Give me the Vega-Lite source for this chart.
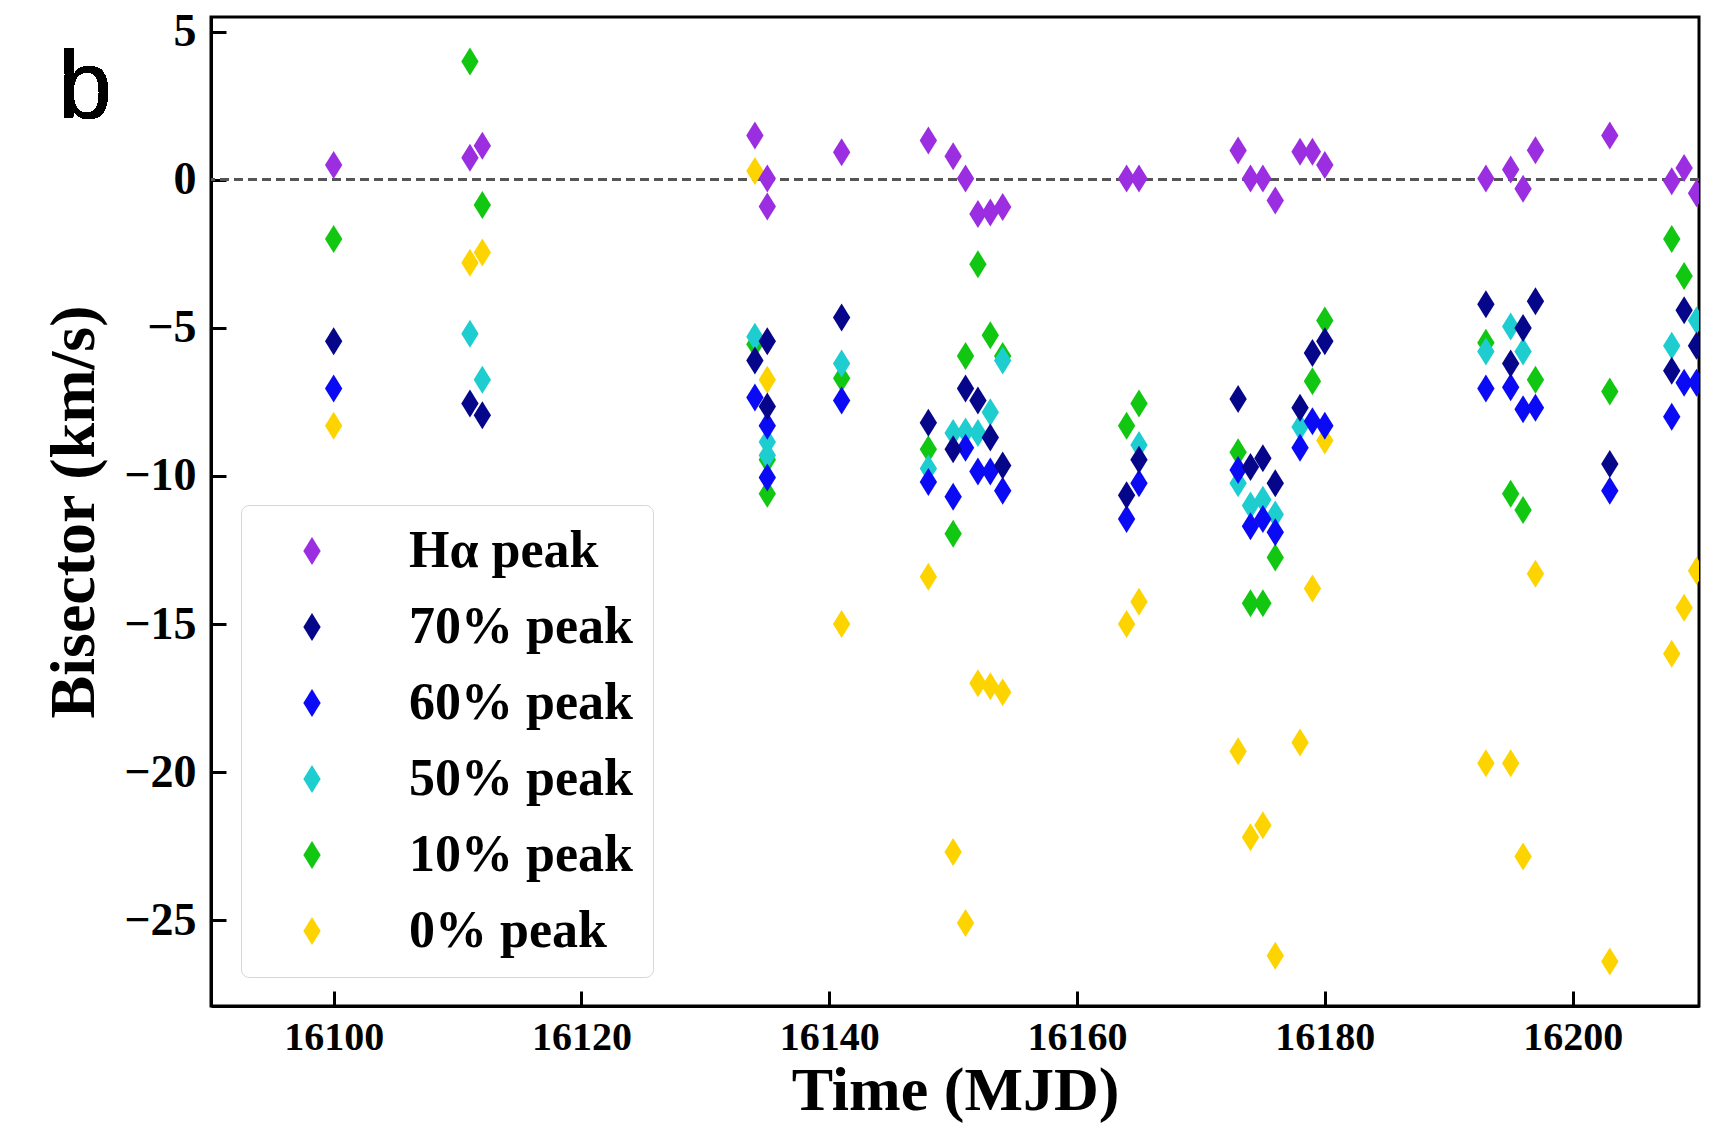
{
  "$schema": "https://vega.github.io/schema/vega-lite/v6.json",
  "width": 1488,
  "height": 989,
  "autosize": {"type": "none"},
  "padding": {"left": 211, "top": 17, "right": 34, "bottom": 122},
  "background": "white",
  "config": {
    "view": {"stroke": "black", "strokeWidth": 3},
    "axis": {"grid": false, "domainColor": "black", "domainWidth": 3, "tickColor": "black", "tickWidth": 3, "tickSize": -15, "labelFont": "Liberation Serif", "labelFontWeight": "bold", "labelColor": "black", "titleFont": "Liberation Serif", "titleFontWeight": "bold", "titleColor": "black"}
  },
  "data": {"values": [
    {"t": 16100, "v": -8.3, "s": "0% peak"},
    {"t": 16111, "v": -2.8, "s": "0% peak"},
    {"t": 16112, "v": -2.45, "s": "0% peak"},
    {"t": 16134, "v": 0.3, "s": "0% peak"},
    {"t": 16135, "v": -6.75, "s": "0% peak"},
    {"t": 16141, "v": -15.0, "s": "0% peak"},
    {"t": 16148, "v": -13.4, "s": "0% peak"},
    {"t": 16150, "v": -22.7, "s": "0% peak"},
    {"t": 16151, "v": -25.1, "s": "0% peak"},
    {"t": 16152, "v": -17.0, "s": "0% peak"},
    {"t": 16153, "v": -17.1, "s": "0% peak"},
    {"t": 16154, "v": -17.3, "s": "0% peak"},
    {"t": 16164, "v": -15.0, "s": "0% peak"},
    {"t": 16165, "v": -14.25, "s": "0% peak"},
    {"t": 16173, "v": -19.3, "s": "0% peak"},
    {"t": 16174, "v": -22.2, "s": "0% peak"},
    {"t": 16175, "v": -21.8, "s": "0% peak"},
    {"t": 16176, "v": -26.2, "s": "0% peak"},
    {"t": 16178, "v": -19.0, "s": "0% peak"},
    {"t": 16179, "v": -13.8, "s": "0% peak"},
    {"t": 16180, "v": -8.8, "s": "0% peak"},
    {"t": 16193, "v": -19.7, "s": "0% peak"},
    {"t": 16195, "v": -19.7, "s": "0% peak"},
    {"t": 16196, "v": -22.85, "s": "0% peak"},
    {"t": 16197, "v": -13.3, "s": "0% peak"},
    {"t": 16203, "v": -26.4, "s": "0% peak"},
    {"t": 16208, "v": -16.0, "s": "0% peak"},
    {"t": 16209, "v": -14.45, "s": "0% peak"},
    {"t": 16210, "v": -13.2, "s": "0% peak"},

    {"t": 16100, "v": -2.0, "s": "10% peak"},
    {"t": 16111, "v": 4.0, "s": "10% peak"},
    {"t": 16112, "v": -0.85, "s": "10% peak"},
    {"t": 16134, "v": -5.55, "s": "10% peak"},
    {"t": 16135, "v": -9.45, "s": "10% peak"},
    {"t": 16135, "v": -10.6, "s": "10% peak"},
    {"t": 16141, "v": -6.7, "s": "10% peak"},
    {"t": 16148, "v": -9.1, "s": "10% peak"},
    {"t": 16150, "v": -11.95, "s": "10% peak"},
    {"t": 16151, "v": -5.95, "s": "10% peak"},
    {"t": 16152, "v": -2.85, "s": "10% peak"},
    {"t": 16153, "v": -5.25, "s": "10% peak"},
    {"t": 16154, "v": -5.95, "s": "10% peak"},
    {"t": 16164, "v": -8.3, "s": "10% peak"},
    {"t": 16165, "v": -7.55, "s": "10% peak"},
    {"t": 16173, "v": -9.2, "s": "10% peak"},
    {"t": 16174, "v": -14.3, "s": "10% peak"},
    {"t": 16175, "v": -14.3, "s": "10% peak"},
    {"t": 16176, "v": -12.75, "s": "10% peak"},
    {"t": 16179, "v": -6.8, "s": "10% peak"},
    {"t": 16180, "v": -4.75, "s": "10% peak"},
    {"t": 16193, "v": -5.5, "s": "10% peak"},
    {"t": 16195, "v": -10.6, "s": "10% peak"},
    {"t": 16196, "v": -11.15, "s": "10% peak"},
    {"t": 16197, "v": -6.75, "s": "10% peak"},
    {"t": 16203, "v": -7.15, "s": "10% peak"},
    {"t": 16208, "v": -2.0, "s": "10% peak"},
    {"t": 16209, "v": -3.25, "s": "10% peak"},

    {"t": 16111, "v": -5.2, "s": "50% peak"},
    {"t": 16112, "v": -6.75, "s": "50% peak"},
    {"t": 16134, "v": -5.3, "s": "50% peak"},
    {"t": 16135, "v": -8.85, "s": "50% peak"},
    {"t": 16135, "v": -9.3, "s": "50% peak"},
    {"t": 16141, "v": -6.2, "s": "50% peak"},
    {"t": 16148, "v": -9.75, "s": "50% peak"},
    {"t": 16150, "v": -8.55, "s": "50% peak"},
    {"t": 16151, "v": -8.5, "s": "50% peak"},
    {"t": 16152, "v": -8.55, "s": "50% peak"},
    {"t": 16153, "v": -7.85, "s": "50% peak"},
    {"t": 16154, "v": -6.1, "s": "50% peak"},
    {"t": 16165, "v": -8.95, "s": "50% peak"},
    {"t": 16173, "v": -10.25, "s": "50% peak"},
    {"t": 16174, "v": -11.0, "s": "50% peak"},
    {"t": 16175, "v": -10.8, "s": "50% peak"},
    {"t": 16176, "v": -11.3, "s": "50% peak"},
    {"t": 16178, "v": -8.35, "s": "50% peak"},
    {"t": 16193, "v": -5.8, "s": "50% peak"},
    {"t": 16195, "v": -4.95, "s": "50% peak"},
    {"t": 16196, "v": -5.8, "s": "50% peak"},
    {"t": 16208, "v": -5.6, "s": "50% peak"},
    {"t": 16210, "v": -4.75, "s": "50% peak"},

    {"t": 16100, "v": -7.05, "s": "60% peak"},
    {"t": 16134, "v": -7.35, "s": "60% peak"},
    {"t": 16135, "v": -8.3, "s": "60% peak"},
    {"t": 16135, "v": -10.05, "s": "60% peak"},
    {"t": 16141, "v": -7.45, "s": "60% peak"},
    {"t": 16148, "v": -10.2, "s": "60% peak"},
    {"t": 16150, "v": -10.7, "s": "60% peak"},
    {"t": 16151, "v": -9.05, "s": "60% peak"},
    {"t": 16152, "v": -9.85, "s": "60% peak"},
    {"t": 16153, "v": -9.85, "s": "60% peak"},
    {"t": 16154, "v": -10.5, "s": "60% peak"},
    {"t": 16164, "v": -11.45, "s": "60% peak"},
    {"t": 16165, "v": -10.25, "s": "60% peak"},
    {"t": 16173, "v": -9.8, "s": "60% peak"},
    {"t": 16174, "v": -11.7, "s": "60% peak"},
    {"t": 16175, "v": -11.45, "s": "60% peak"},
    {"t": 16176, "v": -11.9, "s": "60% peak"},
    {"t": 16178, "v": -9.05, "s": "60% peak"},
    {"t": 16179, "v": -8.15, "s": "60% peak"},
    {"t": 16180, "v": -8.3, "s": "60% peak"},
    {"t": 16193, "v": -7.05, "s": "60% peak"},
    {"t": 16195, "v": -7.0, "s": "60% peak"},
    {"t": 16196, "v": -7.75, "s": "60% peak"},
    {"t": 16197, "v": -7.7, "s": "60% peak"},
    {"t": 16203, "v": -10.5, "s": "60% peak"},
    {"t": 16208, "v": -8.0, "s": "60% peak"},
    {"t": 16209, "v": -6.85, "s": "60% peak"},
    {"t": 16210, "v": -6.85, "s": "60% peak"},

    {"t": 16100, "v": -5.45, "s": "70% peak"},
    {"t": 16111, "v": -7.55, "s": "70% peak"},
    {"t": 16112, "v": -7.95, "s": "70% peak"},
    {"t": 16134, "v": -6.1, "s": "70% peak"},
    {"t": 16135, "v": -5.45, "s": "70% peak"},
    {"t": 16135, "v": -7.65, "s": "70% peak"},
    {"t": 16141, "v": -4.65, "s": "70% peak"},
    {"t": 16148, "v": -8.2, "s": "70% peak"},
    {"t": 16150, "v": -9.1, "s": "70% peak"},
    {"t": 16151, "v": -7.05, "s": "70% peak"},
    {"t": 16152, "v": -7.45, "s": "70% peak"},
    {"t": 16153, "v": -8.7, "s": "70% peak"},
    {"t": 16154, "v": -9.65, "s": "70% peak"},
    {"t": 16164, "v": -10.65, "s": "70% peak"},
    {"t": 16165, "v": -9.45, "s": "70% peak"},
    {"t": 16173, "v": -7.4, "s": "70% peak"},
    {"t": 16174, "v": -9.7, "s": "70% peak"},
    {"t": 16175, "v": -9.4, "s": "70% peak"},
    {"t": 16176, "v": -10.25, "s": "70% peak"},
    {"t": 16178, "v": -7.7, "s": "70% peak"},
    {"t": 16179, "v": -5.85, "s": "70% peak"},
    {"t": 16180, "v": -5.45, "s": "70% peak"},
    {"t": 16193, "v": -4.2, "s": "70% peak"},
    {"t": 16195, "v": -6.2, "s": "70% peak"},
    {"t": 16196, "v": -5.0, "s": "70% peak"},
    {"t": 16197, "v": -4.1, "s": "70% peak"},
    {"t": 16203, "v": -9.6, "s": "70% peak"},
    {"t": 16208, "v": -6.45, "s": "70% peak"},
    {"t": 16209, "v": -4.4, "s": "70% peak"},
    {"t": 16210, "v": -5.6, "s": "70% peak"},

    {"t": 16100, "v": 0.5, "s": "Hα peak"},
    {"t": 16111, "v": 0.75, "s": "Hα peak"},
    {"t": 16112, "v": 1.15, "s": "Hα peak"},
    {"t": 16134, "v": 1.5, "s": "Hα peak"},
    {"t": 16135, "v": 0.05, "s": "Hα peak"},
    {"t": 16135, "v": -0.9, "s": "Hα peak"},
    {"t": 16141, "v": 0.93, "s": "Hα peak"},
    {"t": 16148, "v": 1.33, "s": "Hα peak"},
    {"t": 16150, "v": 0.8, "s": "Hα peak"},
    {"t": 16151, "v": 0.05, "s": "Hα peak"},
    {"t": 16152, "v": -1.15, "s": "Hα peak"},
    {"t": 16153, "v": -1.1, "s": "Hα peak"},
    {"t": 16154, "v": -0.92, "s": "Hα peak"},
    {"t": 16164, "v": 0.05, "s": "Hα peak"},
    {"t": 16165, "v": 0.05, "s": "Hα peak"},
    {"t": 16173, "v": 0.99, "s": "Hα peak"},
    {"t": 16174, "v": 0.05, "s": "Hα peak"},
    {"t": 16175, "v": 0.05, "s": "Hα peak"},
    {"t": 16176, "v": -0.7, "s": "Hα peak"},
    {"t": 16178, "v": 0.95, "s": "Hα peak"},
    {"t": 16179, "v": 0.95, "s": "Hα peak"},
    {"t": 16180, "v": 0.5, "s": "Hα peak"},
    {"t": 16193, "v": 0.05, "s": "Hα peak"},
    {"t": 16195, "v": 0.35, "s": "Hα peak"},
    {"t": 16196, "v": -0.3, "s": "Hα peak"},
    {"t": 16197, "v": 1.0, "s": "Hα peak"},
    {"t": 16203, "v": 1.5, "s": "Hα peak"},
    {"t": 16208, "v": -0.05, "s": "Hα peak"},
    {"t": 16209, "v": 0.4, "s": "Hα peak"},
    {"t": 16210, "v": -0.45, "s": "Hα peak"}
  ]},
  "layer": [
    {
      "mark": {"type": "rule", "color": "#555555", "strokeWidth": 2.5, "strokeDash": [9, 5]},
      "encoding": {"y": {"datum": 0, "type": "quantitative"}}
    },
    {
      "mark": {"type": "point", "filled": true, "opacity": 1, "strokeWidth": 0, "size": 784, "shape": "M0,-1L0.62,0L0,1L-0.62,0Z", "clip": true},
      "encoding": {
        "x": {"field": "t", "type": "quantitative", "scale": {"domain": [16090.1, 16210.2], "nice": false, "zero": false},
              "axis": {"values": [16100, 16120, 16140, 16160, 16180, 16200], "format": "d", "labelFontSize": 40, "labelPadding": 26, "title": "Time (MJD)", "titleFontSize": 62, "titlePadding": 3}},
        "y": {"field": "v", "type": "quantitative", "scale": {"domain": [-27.9, 5.5], "nice": false, "zero": false},
              "axis": {"values": [-25, -20, -15, -10, -5, 0, 5], "labelFontSize": 46, "labelPadding": 30, "title": "Bisector (km/s)", "titleFontSize": 64, "titlePadding": 17}},
        "color": {"field": "s", "type": "nominal",
                  "scale": {"domain": ["Hα peak", "70% peak", "60% peak", "50% peak", "10% peak", "0% peak"], "range": ["#9a2ee0", "#06068a", "#0a0af5", "#1dcdd0", "#12c712", "#fdd400"]},
                  "legend": {"orient": "none", "legendX": 30, "legendY": 488, "title": null, "labelFont": "Liberation Serif", "labelFontWeight": "bold", "labelFontSize": 52, "labelColor": "black", "labelLimit": 500, "symbolType": "M0,-1L0.62,0L0,1L-0.62,0Z", "symbolSize": 784, "symbolStrokeWidth": 0, "symbolOpacity": 1, "symbolOffset": 25, "labelOffset": 71, "rowPadding": 24, "padding": 20, "fillColor": "white", "strokeColor": "#d6d6d6", "cornerRadius": 8}}
      }
    },
    {
      "mark": {"type": "text", "text": "b", "font": "Liberation Sans", "fontSize": 96, "color": "black", "align": "left", "baseline": "alphabetic", "clip": false},
      "encoding": {"x": {"datum": 16077.8, "type": "quantitative"}, "y": {"datum": 2.1, "type": "quantitative"}}
    }
  ]
}
